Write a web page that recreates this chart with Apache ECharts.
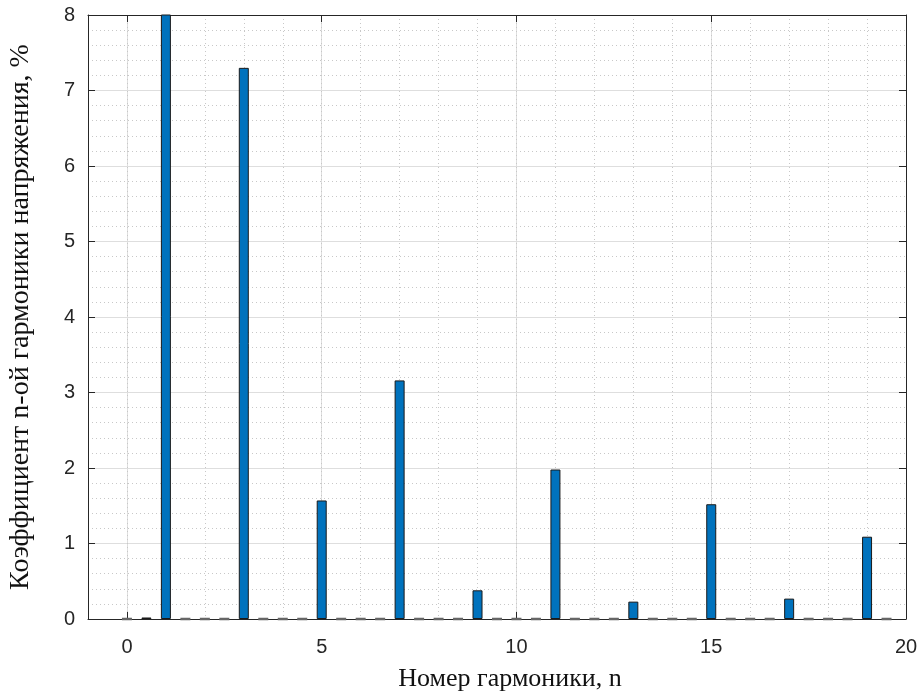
<!DOCTYPE html>
<html lang="ru">
<head>
    <meta charset="UTF-8">
    <title>Гармоники напряжения</title>
    <script src="https://cdn.jsdelivr.net/npm/echarts@6.0.0/dist/echarts.min.js"></script>
    <style>
        html, body { margin: 0; padding: 0; background: #fff; }
        #chart { width: 918px; height: 695px; }
    </style>
</head>
<body>
<div id="chart"></div>
<script>
    // номер гармоники (шаг 0.5) и коэффициент, %
    var harmNumbers = [0, 0.5, 1, 1.5, 2, 2.5, 3, 3.5, 4, 4.5,
        5, 5.5, 6, 6.5, 7, 7.5, 8, 8.5, 9, 9.5,
        10, 10.5, 11, 11.5, 12, 12.5, 13, 13.5, 14, 14.5,
        15, 15.5, 16, 16.5, 17, 17.5, 18, 18.5, 19, 19.5];
    var harmValues = [0, 0.02, 100, 0, 0, 0, 7.3, 0, 0, 0,
        1.57, 0, 0, 0, 3.16, 0, 0, 0, 0.38, 0,
        0, 0, 1.98, 0, 0, 0, 0.23, 0, 0, 0,
        1.52, 0, 0, 0, 0.27, 0, 0, 0, 1.09, 0];
    var xTicks = [0, 5, 10, 15, 20];

    var myChart = echarts.init(document.getElementById('chart'));

    var axisColor = '#262626';
    var tickFont = { fontFamily: 'Liberation Sans', fontSize: 20, color: axisColor };

    var barData = harmNumbers.map(function (n, i) {
        var v = harmValues[i];
        if (v === 0) {
            // нулевые столбики видны только как обводка
            return { value: [n, v], itemStyle: { borderColor: '#666', borderWidth: 2.5 } };
        }
        return [n, v];
    });

    var option = {
        animation: false,
        backgroundColor: '#fff',
        grid: { left: 88, right: 12, top: 15, bottom: 76, outerBoundsMode: 'none' },
        xAxis: [{
            type: 'value', position: 'bottom', min: -1, max: 20,
            name: 'Номер гармоники, n', nameLocation: 'middle', nameGap: 47,
            nameTextStyle: { fontFamily: 'Liberation Serif', fontSize: 26, color: '#111', padding: [0, 0, 0, 26] },
            axisLine: { show: true, onZero: false, lineStyle: { color: axisColor, width: 1 } },
            axisTick: { show: true, inside: true, length: 7, customValues: xTicks, lineStyle: { color: axisColor } },
            axisLabel: Object.assign({ customValues: xTicks, margin: 18 }, tickFont),
            splitLine: { show: true, lineStyle: { color: '#dedede', width: 1 } }
        }, {
            type: 'value', position: 'bottom', min: -1, max: 20, interval: 1,
            axisLine: { show: false }, axisTick: { show: false }, axisLabel: { show: false },
            splitLine: { show: true, lineStyle: { color: '#c8c8c8', type: [1, 3], width: 1 } }
        }, {
            type: 'value', position: 'top', min: -1, max: 20,
            axisLine: { show: true, onZero: false, lineStyle: { color: axisColor, width: 1 } },
            axisTick: { show: true, inside: true, length: 7, customValues: xTicks, lineStyle: { color: axisColor } },
            axisLabel: { show: false },
            splitLine: { show: false }
        }],
        yAxis: [{
            type: 'value', position: 'left', min: 0, max: 8, interval: 1,
            name: 'Коэффициент n-ой гармоники напряжения, %', nameLocation: 'middle', nameGap: 53,
            nameTextStyle: { fontFamily: 'Liberation Serif', fontSize: 28, color: '#111' },
            axisLine: { show: true, onZero: false, lineStyle: { color: axisColor, width: 1 } },
            axisTick: { show: true, inside: true, length: 7, lineStyle: { color: axisColor } },
            axisLabel: Object.assign({ margin: 13 }, tickFont),
            splitLine: { show: true, lineStyle: { color: '#dedede', width: 1 } },
            minorTick: { show: false, splitNumber: 5 },
            minorSplitLine: { show: true, lineStyle: { color: '#c8c8c8', type: [1, 3], width: 1 } }
        }, {
            type: 'value', position: 'right', min: 0, max: 8, interval: 1,
            axisLine: { show: true, onZero: false, lineStyle: { color: axisColor, width: 1 } },
            axisTick: { show: true, inside: true, length: 7, lineStyle: { color: axisColor } },
            axisLabel: { show: false },
            splitLine: { show: false }
        }],
        series: [{
            type: 'bar',
            xAxisIndex: 0,
            yAxisIndex: 0,
            barWidth: 10,
            clip: true,
            itemStyle: { color: '#0072BD', borderColor: '#1a1a1a', borderWidth: 1 },
            data: barData
        }]
    };

    myChart.setOption(option);
</script>
</body>
</html>
